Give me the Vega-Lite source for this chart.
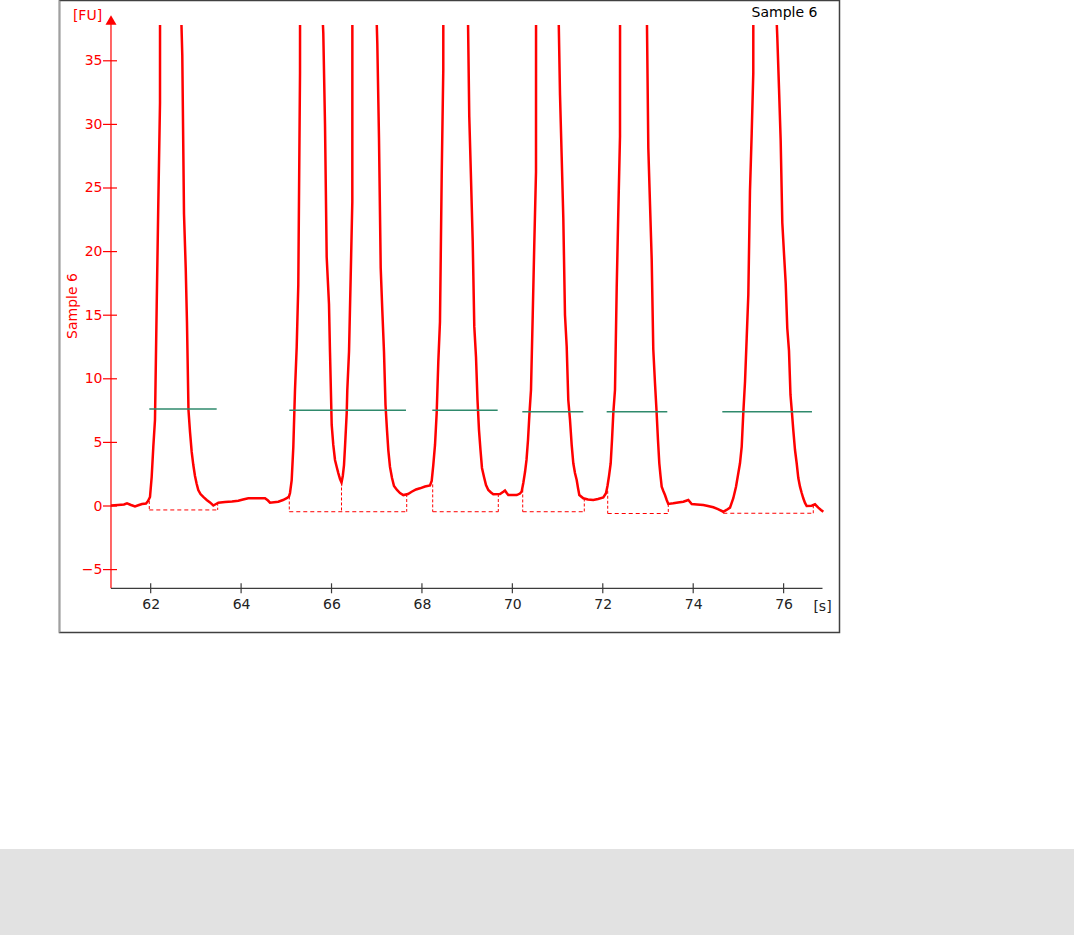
{
  "$schema": "https://vega.github.io/schema/vega-lite/v6.json",
  "width": 1074,
  "height": 910,
  "autosize": {"type": "none"},
  "padding": {"top": 25, "left": 0, "right": 0, "bottom": 0},
  "background": "white",
  "config": {
    "view": {"stroke": null},
    "font": "DejaVu Sans",
    "axis": {"grid": false, "labelFont": "DejaVu Sans", "titleFont": "DejaVu Sans", "labelFontSize": 14, "titleFontSize": 14, "titleFontWeight": "normal"}
  },
  "datasets": {
    "trace": [
      {"t": 61.122, "fu": 0.04}, {"t": 61.277, "fu": 0.08}, {"t": 61.410, "fu": 0.12}, {"t": 61.476, "fu": 0.21}, {"t": 61.565, "fu": 0.08},
      {"t": 61.653, "fu": -0.04}, {"t": 61.742, "fu": 0.08}, {"t": 61.808, "fu": 0.16}, {"t": 61.896, "fu": 0.20}, {"t": 61.941, "fu": 0.39},
      {"t": 61.985, "fu": 0.71}, {"t": 62.022, "fu": 2.28}, {"t": 62.058, "fu": 4.64}, {"t": 62.095, "fu": 6.76}, {"t": 62.133, "fu": 15.72},
      {"t": 62.168, "fu": 23.66}, {"t": 62.206, "fu": 31.68}, {"t": 62.207, "fu": 40}, {"t": 62.436, "fu": 62}, {"t": 62.664, "fu": 40}, {"t": 62.699, "fu": 35.46},
      {"t": 62.737, "fu": 22.96}, {"t": 62.775, "fu": 18.71}, {"t": 62.803, "fu": 14.39}, {"t": 62.836, "fu": 7.55}, {"t": 62.870, "fu": 5.82},
      {"t": 62.907, "fu": 4.25}, {"t": 62.943, "fu": 3.22}, {"t": 62.980, "fu": 2.36}, {"t": 63.018, "fu": 1.73}, {"t": 63.053, "fu": 1.26},
      {"t": 63.102, "fu": 0.94}, {"t": 63.164, "fu": 0.71}, {"t": 63.239, "fu": 0.47}, {"t": 63.312, "fu": 0.28}, {"t": 63.385, "fu": 0.04},
      {"t": 63.445, "fu": 0.16}, {"t": 63.496, "fu": 0.26}, {"t": 63.644, "fu": 0.31}, {"t": 63.799, "fu": 0.35}, {"t": 63.938, "fu": 0.42},
      {"t": 64.042, "fu": 0.51}, {"t": 64.159, "fu": 0.61}, {"t": 64.529, "fu": 0.61}, {"t": 64.595, "fu": 0.43}, {"t": 64.639, "fu": 0.26},
      {"t": 64.823, "fu": 0.34}, {"t": 64.927, "fu": 0.47}, {"t": 65.009, "fu": 0.61}, {"t": 65.059, "fu": 0.75}, {"t": 65.082, "fu": 1.02},
      {"t": 65.119, "fu": 2.04}, {"t": 65.155, "fu": 4.64}, {"t": 65.177, "fu": 7.31}, {"t": 65.192, "fu": 9.12}, {"t": 65.230, "fu": 12.52},
      {"t": 65.265, "fu": 17.37}, {"t": 65.303, "fu": 34.02}, {"t": 65.304, "fu": 40}, {"t": 65.542, "fu": 70}, {"t": 65.783, "fu": 40}, {"t": 65.818, "fu": 37.19},
      {"t": 65.856, "fu": 29.95}, {"t": 65.893, "fu": 19.57}, {"t": 65.944, "fu": 15.88}, {"t": 65.966, "fu": 12.13}, {"t": 66.004, "fu": 6.37},
      {"t": 66.039, "fu": 4.80}, {"t": 66.077, "fu": 3.62}, {"t": 66.115, "fu": 3.07}, {"t": 66.150, "fu": 2.59}, {"t": 66.188, "fu": 2.12},
      {"t": 66.221, "fu": 1.85}, {"t": 66.249, "fu": 2.36}, {"t": 66.276, "fu": 3.22}, {"t": 66.298, "fu": 4.64}, {"t": 66.336, "fu": 7.31},
      {"t": 66.349, "fu": 9.12}, {"t": 66.387, "fu": 12.13}, {"t": 66.424, "fu": 18.03}, {"t": 66.460, "fu": 23.92}, {"t": 66.461, "fu": 40}, {"t": 66.718, "fu": 75},
      {"t": 66.984, "fu": 40}, {"t": 67.013, "fu": 36.32}, {"t": 67.050, "fu": 28.91}, {"t": 67.088, "fu": 18.71}, {"t": 67.123, "fu": 15.41},
      {"t": 67.161, "fu": 12.08}, {"t": 67.194, "fu": 7.94}, {"t": 67.227, "fu": 5.97}, {"t": 67.256, "fu": 4.40}, {"t": 67.293, "fu": 3.07},
      {"t": 67.338, "fu": 2.20}, {"t": 67.382, "fu": 1.57}, {"t": 67.448, "fu": 1.26}, {"t": 67.515, "fu": 1.02}, {"t": 67.588, "fu": 0.86},
      {"t": 67.692, "fu": 0.94}, {"t": 67.773, "fu": 1.12}, {"t": 67.869, "fu": 1.30}, {"t": 67.957, "fu": 1.39}, {"t": 68.068, "fu": 1.53},
      {"t": 68.178, "fu": 1.61}, {"t": 68.216, "fu": 1.97}, {"t": 68.251, "fu": 3.22}, {"t": 68.289, "fu": 4.80}, {"t": 68.326, "fu": 7.31},
      {"t": 68.362, "fu": 11.34}, {"t": 68.399, "fu": 14.49}, {"t": 68.437, "fu": 25.94}, {"t": 68.472, "fu": 34.28}, {"t": 68.473, "fu": 40}, {"t": 68.742, "fu": 72},
      {"t": 69.012, "fu": 40}, {"t": 69.047, "fu": 30.61}, {"t": 69.085, "fu": 25.76}, {"t": 69.123, "fu": 20.78}, {"t": 69.158, "fu": 14.10},
      {"t": 69.196, "fu": 11.69}, {"t": 69.229, "fu": 8.33}, {"t": 69.262, "fu": 5.97}, {"t": 69.295, "fu": 4.40}, {"t": 69.328, "fu": 2.99},
      {"t": 69.373, "fu": 2.28}, {"t": 69.417, "fu": 1.65}, {"t": 69.468, "fu": 1.26}, {"t": 69.527, "fu": 1.06}, {"t": 69.578, "fu": 0.92},
      {"t": 69.727, "fu": 0.94}, {"t": 69.800, "fu": 1.12}, {"t": 69.837, "fu": 1.22}, {"t": 69.875, "fu": 1.02}, {"t": 69.910, "fu": 0.86},
      {"t": 70.096, "fu": 0.86}, {"t": 70.169, "fu": 0.98}, {"t": 70.206, "fu": 1.14}, {"t": 70.242, "fu": 1.81}, {"t": 70.280, "fu": 2.67},
      {"t": 70.313, "fu": 3.62}, {"t": 70.346, "fu": 5.19}, {"t": 70.379, "fu": 7.31}, {"t": 70.412, "fu": 9.12}, {"t": 70.450, "fu": 14.94},
      {"t": 70.485, "fu": 20.60}, {"t": 70.523, "fu": 26.28}, {"t": 70.524, "fu": 40}, {"t": 70.766, "fu": 68}, {"t": 71.016, "fu": 40}, {"t": 71.054, "fu": 32.31},
      {"t": 71.091, "fu": 27.46}, {"t": 71.127, "fu": 22.62}, {"t": 71.164, "fu": 15.02}, {"t": 71.202, "fu": 12.52}, {"t": 71.237, "fu": 8.33},
      {"t": 71.275, "fu": 6.76}, {"t": 71.312, "fu": 4.80}, {"t": 71.348, "fu": 3.36}, {"t": 71.385, "fu": 2.59}, {"t": 71.423, "fu": 2.04},
      {"t": 71.452, "fu": 1.42}, {"t": 71.481, "fu": 0.86}, {"t": 71.569, "fu": 0.61}, {"t": 71.673, "fu": 0.51}, {"t": 71.790, "fu": 0.47},
      {"t": 71.894, "fu": 0.55}, {"t": 72.011, "fu": 0.68}, {"t": 72.071, "fu": 1.00}, {"t": 72.104, "fu": 1.57}, {"t": 72.138, "fu": 2.36},
      {"t": 72.175, "fu": 3.36}, {"t": 72.204, "fu": 5.19}, {"t": 72.233, "fu": 7.31}, {"t": 72.270, "fu": 9.12}, {"t": 72.308, "fu": 17.16},
      {"t": 72.343, "fu": 23.06}, {"t": 72.381, "fu": 29.09}, {"t": 72.382, "fu": 40}, {"t": 72.668, "fu": 66}, {"t": 72.971, "fu": 40}, {"t": 73.007, "fu": 28.17},
      {"t": 73.044, "fu": 23.80}, {"t": 73.082, "fu": 19.39}, {"t": 73.117, "fu": 12.32}, {"t": 73.155, "fu": 9.65}, {"t": 73.188, "fu": 7.55},
      {"t": 73.221, "fu": 5.19}, {"t": 73.250, "fu": 3.36}, {"t": 73.277, "fu": 2.36}, {"t": 73.303, "fu": 1.52}, {"t": 73.339, "fu": 1.18},
      {"t": 73.376, "fu": 0.86}, {"t": 73.414, "fu": 0.47}, {"t": 73.449, "fu": 0.16}, {"t": 73.560, "fu": 0.21}, {"t": 73.664, "fu": 0.28},
      {"t": 73.781, "fu": 0.34}, {"t": 73.892, "fu": 0.47}, {"t": 73.967, "fu": 0.16}, {"t": 74.084, "fu": 0.12}, {"t": 74.223, "fu": 0.08},
      {"t": 74.327, "fu": 0.00}, {"t": 74.445, "fu": -0.10}, {"t": 74.548, "fu": -0.24}, {"t": 74.666, "fu": -0.45}, {"t": 74.737, "fu": -0.31},
      {"t": 74.814, "fu": -0.13}, {"t": 74.887, "fu": 0.61}, {"t": 74.947, "fu": 1.52}, {"t": 74.991, "fu": 2.44}, {"t": 75.035, "fu": 3.36},
      {"t": 75.073, "fu": 4.66}, {"t": 75.108, "fu": 7.31}, {"t": 75.146, "fu": 9.77}, {"t": 75.183, "fu": 13.18}, {"t": 75.219, "fu": 16.59},
      {"t": 75.256, "fu": 24.79}, {"t": 75.294, "fu": 29.30}, {"t": 75.329, "fu": 34.02}, {"t": 75.330, "fu": 40}, {"t": 75.577, "fu": 80}, {"t": 75.825, "fu": 40},
      {"t": 75.860, "fu": 36.89}, {"t": 75.898, "fu": 32.84}, {"t": 75.935, "fu": 28.72}, {"t": 75.971, "fu": 22.27}, {"t": 76.008, "fu": 19.87},
      {"t": 76.046, "fu": 17.51}, {"t": 76.081, "fu": 13.97}, {"t": 76.119, "fu": 12.19}, {"t": 76.152, "fu": 8.73}, {"t": 76.185, "fu": 7.31},
      {"t": 76.214, "fu": 5.97}, {"t": 76.252, "fu": 4.40}, {"t": 76.289, "fu": 3.36}, {"t": 76.325, "fu": 2.20}, {"t": 76.362, "fu": 1.52},
      {"t": 76.400, "fu": 1.02}, {"t": 76.435, "fu": 0.61}, {"t": 76.473, "fu": 0.24}, {"t": 76.510, "fu": 0.00}, {"t": 76.621, "fu": 0.02},
      {"t": 76.694, "fu": 0.13}, {"t": 76.767, "fu": -0.13}, {"t": 76.827, "fu": -0.31}, {"t": 76.878, "fu": -0.45}
    ],
    "baselines": [
      {"a": 61.969, "b": 63.482, "base": -0.31},
      {"a": 65.066, "b": 67.663, "base": -0.45},
      {"a": 68.238, "b": 69.689, "base": -0.45},
      {"a": 70.229, "b": 71.591, "base": -0.45},
      {"a": 72.109, "b": 73.449, "base": -0.59},
      {"a": 74.666, "b": 76.656, "base": -0.57}
    ],
    "drops": [
      {"t": 61.969, "top": 0.39, "base": -0.31},
      {"t": 63.482, "top": 0.26, "base": -0.31},
      {"t": 65.066, "top": 0.75, "base": -0.45},
      {"t": 66.221, "top": 1.85, "base": -0.45},
      {"t": 67.663, "top": 0.94, "base": -0.45},
      {"t": 68.238, "top": 1.7, "base": -0.45},
      {"t": 69.689, "top": 0.94, "base": -0.45},
      {"t": 70.229, "top": 1.3, "base": -0.45},
      {"t": 71.591, "top": 0.59, "base": -0.45},
      {"t": 72.109, "top": 1.2, "base": -0.59},
      {"t": 73.449, "top": 0.16, "base": -0.59},
      {"t": 74.666, "top": -0.45, "base": -0.57},
      {"t": 76.656, "top": 0.06, "base": -0.57}
    ],
    "levels": [
      {"a": 61.969, "b": 63.460, "h": 7.63},
      {"a": 65.066, "b": 67.647, "h": 7.52},
      {"a": 68.229, "b": 69.675, "h": 7.52},
      {"a": 70.220, "b": 71.569, "h": 7.41},
      {"a": 72.086, "b": 73.427, "h": 7.41},
      {"a": 74.644, "b": 76.627, "h": 7.41}
    ],
    "yticks": [{"v": -5}, {"v": 0}, {"v": 5}, {"v": 10}, {"v": 15}, {"v": 20}, {"v": 25}, {"v": 30}, {"v": 35}],
    "xticks": [{"s": 62}, {"s": 64}, {"s": 66}, {"s": 68}, {"s": 70}, {"s": 72}, {"s": 74}, {"s": 76}],
    "one": [{}]
  },
  "layer": [
    {
      "data": {"name": "one"},
      "mark": {"type": "rect", "color": "#e2e2e2", "clip": false},
      "encoding": {
        "x": {"datum": 58.667, "type": "quantitative", "scale": {"domain": [58.667, 82.423], "nice": false, "zero": false}, "axis": null},
        "x2": {"datum": 82.423},
        "y": {"datum": -33.726, "type": "quantitative", "scale": {"domain": [-33.726, 37.814], "nice": false, "zero": false}, "axis": null},
        "y2": {"datum": -26.965}
      }
    },
    {
      "data": {"name": "one"},
      "mark": {"type": "rect", "filled": false, "stroke": "#404040", "strokeWidth": 1.5, "clip": false},
      "encoding": {
        "x": {"datum": 59.983, "type": "quantitative", "scale": {"domain": [58.667, 82.423], "nice": false, "zero": false}, "axis": null},
        "x2": {"datum": 77.236},
        "y": {"datum": 39.74, "type": "quantitative", "scale": {"domain": [-33.726, 37.814], "nice": false, "zero": false}, "axis": null},
        "y2": {"datum": -9.945}
      }
    },
    {
      "data": {"name": "one"},
      "mark": {"type": "rule", "color": "#a0a0a0", "strokeWidth": 1.5, "clip": false},
      "encoding": {
        "x": {"datum": 59.983, "type": "quantitative", "scale": {"domain": [58.667, 82.423], "nice": false, "zero": false}, "axis": null},
        "y": {"datum": 39.74, "type": "quantitative", "scale": {"domain": [-33.726, 37.814], "nice": false, "zero": false}, "axis": null},
        "y2": {"datum": -9.945}
      }
    },
    {
      "data": {"name": "one"},
      "mark": {"type": "rule", "color": "#ff0000", "strokeWidth": 1.2, "clip": false},
      "encoding": {
        "x": {"datum": 61.122, "type": "quantitative", "scale": {"domain": [58.667, 82.423], "nice": false, "zero": false}, "axis": null},
        "y": {"datum": -6.47, "type": "quantitative", "scale": {"domain": [-33.726, 37.814], "nice": false, "zero": false}, "axis": null},
        "y2": {"datum": 38.2}
      }
    },
    {
      "data": {"name": "one"},
      "mark": {"type": "rule", "color": "#3c3c3c", "strokeWidth": 1.2, "clip": false},
      "encoding": {
        "x": {"datum": 61.122, "type": "quantitative", "scale": {"domain": [58.667, 82.423], "nice": false, "zero": false}, "axis": null},
        "x2": {"datum": 76.86},
        "y": {"datum": -6.47, "type": "quantitative", "scale": {"domain": [-33.726, 37.814], "nice": false, "zero": false}, "axis": null}
      }
    },
    {
      "data": {"name": "one"},
      "mark": {"type": "point", "shape": "triangle-up", "filled": true, "color": "#ff0000", "size": 121, "opacity": 1, "clip": false},
      "encoding": {
        "x": {"datum": 61.122, "type": "quantitative", "scale": {"domain": [58.667, 82.423], "nice": false, "zero": false}, "axis": null},
        "y": {"datum": 38.21, "type": "quantitative", "scale": {"domain": [-33.726, 37.814], "nice": false, "zero": false}, "axis": null}
      }
    },
    {
      "data": {"name": "yticks"},
      "mark": {"type": "tick", "orient": "horizontal", "size": 14, "thickness": 1.2, "color": "#ff0000", "opacity": 1},
      "encoding": {
        "x": {"datum": 61.1, "type": "quantitative", "scale": {"domain": [58.667, 82.423], "nice": false, "zero": false}, "axis": null},
        "y": {"field": "v", "type": "quantitative", "scale": {"domain": [-33.726, 37.814], "nice": false, "zero": false},
          "axis": {"orient": "left", "offset": -111, "labels": false, "ticks": false, "domain": false, "grid": false, "title": "[FU]", "titleX": -24, "titleY": -10, "titleAngle": 0, "titleAlign": "center", "titleBaseline": "middle", "titleColor": "#ff0000", "titleFontSize": 14, "titleFontWeight": "normal"}}
      }
    },
    {
      "data": {"name": "xticks"},
      "mark": {"type": "tick", "orient": "vertical", "size": 10, "thickness": 1.2, "color": "#3c3c3c", "opacity": 1},
      "encoding": {
        "x": {"field": "s", "type": "quantitative", "scale": {"domain": [58.667, 82.423], "nice": false, "zero": false},
          "axis": {"orient": "top", "offset": 0, "labels": false, "ticks": false, "domain": false, "grid": false, "title": "Sample 6", "titleX": 784, "titleY": -13, "titleAngle": 0, "titleAlign": "center", "titleBaseline": "middle", "titleColor": "#000000", "titleFontSize": 14, "titleFontWeight": "normal"}},
        "y": {"datum": -6.47, "type": "quantitative", "scale": {"domain": [-33.726, 37.814], "nice": false, "zero": false}, "axis": null}
      }
    },
    {
      "data": {"name": "baselines"},
      "mark": {"type": "rule", "color": "#ff0000", "strokeWidth": 1, "strokeDash": [4, 3]},
      "encoding": {
        "x": {"field": "a", "type": "quantitative", "scale": {"domain": [58.667, 82.423], "nice": false, "zero": false}, "axis": null},
        "x2": {"field": "b"},
        "y": {"field": "base", "type": "quantitative", "scale": {"domain": [-33.726, 37.814], "nice": false, "zero": false}, "axis": null}
      }
    },
    {
      "data": {"name": "drops"},
      "mark": {"type": "rule", "color": "#ff0000", "strokeWidth": 1, "strokeDash": [3, 2]},
      "encoding": {
        "x": {"field": "t", "type": "quantitative", "scale": {"domain": [58.667, 82.423], "nice": false, "zero": false}, "axis": null},
        "y": {"field": "top", "type": "quantitative", "scale": {"domain": [-33.726, 37.814], "nice": false, "zero": false}, "axis": null},
        "y2": {"field": "base"}
      }
    },
    {
      "data": {"name": "trace"},
      "mark": {"type": "line", "color": "#ff0000", "strokeWidth": 2.5, "clip": true},
      "encoding": {
        "x": {"field": "t", "type": "quantitative", "scale": {"domain": [58.667, 82.423], "nice": false, "zero": false},
          "axis": {"orient": "bottom", "offset": -346.7, "values": [62, 64, 66, 68, 70, 72, 74, 76], "ticks": false, "domain": false, "grid": false, "labelColor": "#222222", "labelFontSize": 14, "labelPadding": 9, "labelFlush": false, "labelOverlap": false, "title": "[s]", "titleX": 822, "titleY": 18, "titleAngle": 0, "titleAlign": "center", "titleBaseline": "middle", "titleColor": "#222222", "titleFontSize": 14, "titleFontWeight": "normal"}},
        "y": {"field": "fu", "type": "quantitative", "scale": {"domain": [-33.726, 37.814], "nice": false, "zero": false},
          "axis": {"orient": "left", "offset": -111, "values": [-5, 0, 5, 10, 15, 20, 25, 30, 35], "ticks": false, "domain": false, "grid": false, "labelColor": "#ff0000", "labelFontSize": 14, "labelPadding": 9, "labelFlush": false, "labelOverlap": false, "title": "Sample 6", "titleX": -39, "titleY": 280.5, "titleAngle": -90, "titleAlign": "center", "titleBaseline": "middle", "titleColor": "#ff0000", "titleFontSize": 14, "titleFontWeight": "normal"}}
      }
    },
    {
      "data": {"name": "levels"},
      "mark": {"type": "rule", "color": "#2f8a6c", "strokeWidth": 1.5},
      "encoding": {
        "x": {"field": "a", "type": "quantitative", "scale": {"domain": [58.667, 82.423], "nice": false, "zero": false}, "axis": null},
        "x2": {"field": "b"},
        "y": {"field": "h", "type": "quantitative", "scale": {"domain": [-33.726, 37.814], "nice": false, "zero": false}, "axis": null}
      }
    }
  ],
  "resolve": {"axis": {"x": "independent", "y": "independent"}}
}
